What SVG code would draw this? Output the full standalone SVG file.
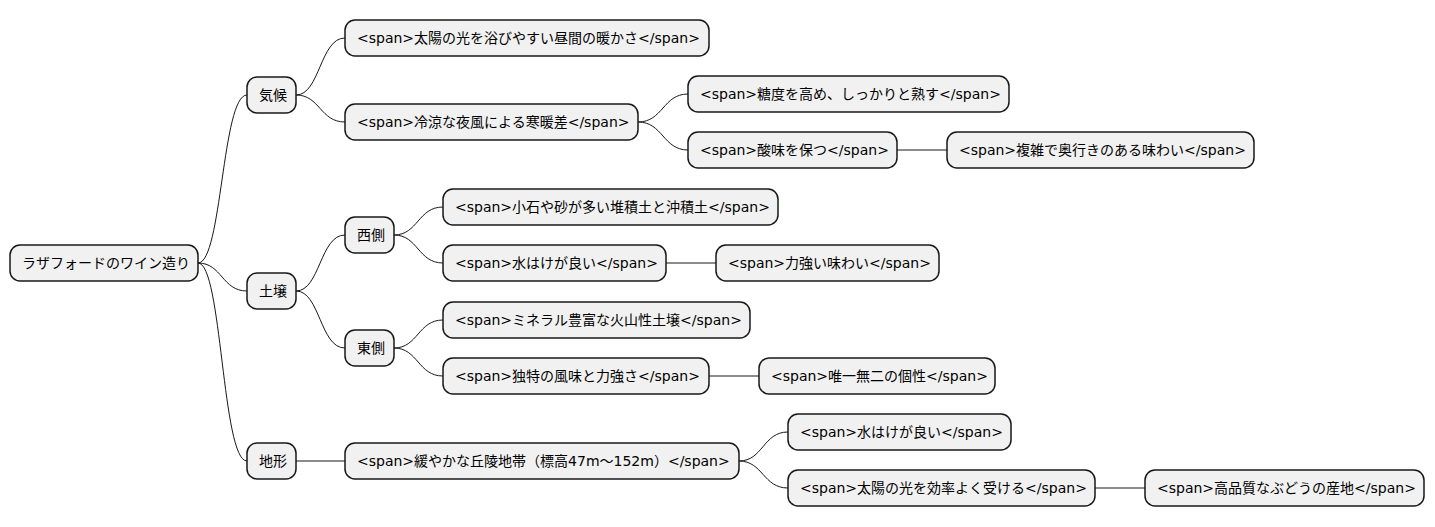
<svg xmlns="http://www.w3.org/2000/svg" width="1435" height="527" viewBox="0 0 1435 527">
<style>
rect{fill:#f1f1f1;stroke:#181818;stroke-width:1.5}
text{font-family:"DejaVu Sans","Noto Sans CJK JP",sans-serif;font-size:14px;fill:#000}
#connectors path{fill:none;stroke:#181818;stroke-width:1}
</style>
<rect width="1435" height="527" style="fill:#fff;stroke:none"/>
<g id="connectors">
<path d="M198,263 C222,263 222,95 247,95"/>
<path d="M198,263 C222,263 222,291 247,291"/>
<path d="M198,263 C222,263 222,461 247,461"/>
<path d="M296,95 C320,95 320,38 345,38"/>
<path d="M296,95 C320,95 320,122 345,122"/>
<path d="M638,122 C663,122 663,94 688,94"/>
<path d="M638,122 C663,122 663,150 688,150"/>
<path d="M897,150 L947,150"/>
<path d="M296,291 C320,291 320,235 345,235"/>
<path d="M296,291 C320,291 320,348 345,348"/>
<path d="M394,235 C418,235 418,207 443,207"/>
<path d="M394,235 C418,235 418,263 443,263"/>
<path d="M666,263 L716,263"/>
<path d="M394,348 C418,348 418,320 443,320"/>
<path d="M394,348 C418,348 418,376 443,376"/>
<path d="M709,376 L759,376"/>
<path d="M296,461 L345,461"/>
<path d="M739,461 C763,461 763,432 788,432"/>
<path d="M739,461 C763,461 763,488 788,488"/>
<path d="M1095,488 L1145,488"/>
</g>
<g id="root"><rect x="10" y="245" width="188" height="36" rx="10"/><text x="22" y="268">ラザフォードのワイン造り</text></g>
<g id="kikou"><rect x="247" y="77" width="49" height="36" rx="10"/><text x="259" y="100">気候</text></g>
<g id="dojou"><rect x="247" y="273" width="49" height="36" rx="10"/><text x="259" y="296">土壌</text></g>
<g id="chikei"><rect x="247" y="443" width="49" height="36" rx="10"/><text x="259" y="466">地形</text></g>
<g id="k1"><rect x="345" y="20" width="364" height="36" rx="10"/><text x="357" y="43">&lt;span&gt;太陽の光を浴びやすい昼間の暖かさ&lt;/span&gt;</text></g>
<g id="k2"><rect x="345" y="104" width="293" height="36" rx="10"/><text x="357" y="127">&lt;span&gt;冷涼な夜風による寒暖差&lt;/span&gt;</text></g>
<g id="k21"><rect x="688" y="76" width="321" height="36" rx="10"/><text x="700" y="99">&lt;span&gt;糖度を高め、しっかりと熟す&lt;/span&gt;</text></g>
<g id="k22"><rect x="688" y="132" width="209" height="36" rx="10"/><text x="700" y="155">&lt;span&gt;酸味を保つ&lt;/span&gt;</text></g>
<g id="k221"><rect x="947" y="132" width="307" height="36" rx="10"/><text x="959" y="155">&lt;span&gt;複雑で奥行きのある味わい&lt;/span&gt;</text></g>
<g id="west"><rect x="345" y="217" width="49" height="36" rx="10"/><text x="357" y="240">西側</text></g>
<g id="w1"><rect x="443" y="189" width="335" height="36" rx="10"/><text x="455" y="212">&lt;span&gt;小石や砂が多い堆積土と沖積土&lt;/span&gt;</text></g>
<g id="w2"><rect x="443" y="245" width="223" height="36" rx="10"/><text x="455" y="268">&lt;span&gt;水はけが良い&lt;/span&gt;</text></g>
<g id="w21"><rect x="716" y="245" width="223" height="36" rx="10"/><text x="728" y="268">&lt;span&gt;力強い味わい&lt;/span&gt;</text></g>
<g id="east"><rect x="345" y="330" width="49" height="36" rx="10"/><text x="357" y="353">東側</text></g>
<g id="e1"><rect x="443" y="302" width="307" height="36" rx="10"/><text x="455" y="325">&lt;span&gt;ミネラル豊富な火山性土壌&lt;/span&gt;</text></g>
<g id="e2"><rect x="443" y="358" width="266" height="36" rx="10"/><text x="455" y="381">&lt;span&gt;独特の風味と力強さ&lt;/span&gt;</text></g>
<g id="e21"><rect x="759" y="358" width="236" height="36" rx="10"/><text x="771" y="381">&lt;span&gt;唯一無二の個性&lt;/span&gt;</text></g>
<g id="c1"><rect x="345" y="443" width="394" height="36" rx="10"/><text x="357" y="466">&lt;span&gt;緩やかな丘陵地帯（標高47m〜152m）&lt;/span&gt;</text></g>
<g id="c11"><rect x="788" y="414" width="223" height="36" rx="10"/><text x="800" y="437">&lt;span&gt;水はけが良い&lt;/span&gt;</text></g>
<g id="c12"><rect x="788" y="470" width="307" height="36" rx="10"/><text x="800" y="493">&lt;span&gt;太陽の光を効率よく受ける&lt;/span&gt;</text></g>
<g id="c121"><rect x="1145" y="470" width="279" height="36" rx="10"/><text x="1157" y="493">&lt;span&gt;高品質なぶどうの産地&lt;/span&gt;</text></g>
</svg>
